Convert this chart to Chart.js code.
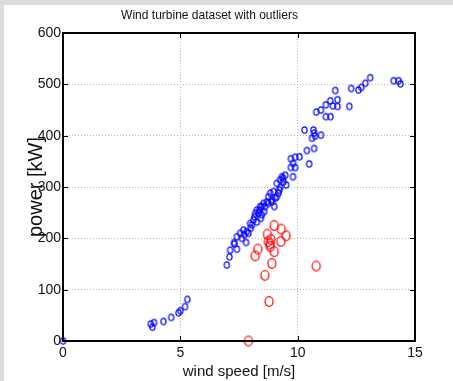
<!DOCTYPE html>
<html><head><meta charset="utf-8">
<script src="https://cdn.jsdelivr.net/npm/chart.js@4"></script>
<style>
html,body{margin:0;padding:0;background:#dcdcdc;width:453px;height:381px;overflow:hidden;}
#wrap{position:absolute;left:4px;top:5px;width:449px;height:376px;background:#fff;}
canvas{display:block;}
</style></head><body>
<div id="wrap"><canvas id="c" width="449" height="376"></canvas></div>
<script>
const titleText = 'Wind turbine dataset with outliers';
const xLabel = 'wind speed [m/s]';
const yLabel = 'power [kW]';
const xTicks = [0, 5, 10, 15];
const yTicks = [0, 100, 200, 300, 400, 500, 600];

const normalSpeed = [0, 3.74, 3.88, 3.81, 4.28, 4.61, 4.92, 5.0, 5.2, 5.30,
  6.98, 7.09, 7.12, 7.30, 7.41, 7.29, 7.41, 7.55, 7.62, 7.69, 7.72, 7.80, 7.83, 7.90, 7.97,
  8.00, 8.05, 8.12, 8.16, 8.19, 8.26, 8.26, 8.33, 8.37, 8.40, 8.43, 8.47, 8.47, 8.54, 8.57,
  8.61, 8.69, 8.75, 8.75, 8.83, 8.90, 8.90, 8.97, 9.00, 9.04, 9.11, 9.11, 9.18, 9.22, 9.25,
  9.25, 9.33, 9.37, 9.39, 9.47, 9.51, 9.71, 9.80, 9.71, 9.80, 9.89, 9.89, 10.08, 10.39, 10.49,
  10.61, 10.70, 10.70, 10.74, 10.67, 10.29, 10.99, 10.79, 10.99, 11.20, 11.40, 11.20, 11.39, 11.50,
  11.70, 11.70, 11.60, 12.20, 12.28, 12.59, 12.71, 12.88, 13.09, 14.09, 14.30, 14.38];
const normalPower = [0, 33, 36, 27, 38, 46, 55, 59, 67, 81,
  148, 164, 177, 189, 179, 192, 203, 210, 200, 216, 207, 192, 213, 210, 229,
  220, 226, 236, 242, 249, 232, 255, 249, 255, 262, 239, 262, 246, 268, 252,
  262, 271, 281, 268, 288, 271, 275, 291, 262, 278, 307, 281, 288, 294, 314,
  299, 320, 317, 310, 323, 304, 338, 346, 355, 320, 338, 358, 359, 371, 345,
  395, 375, 405, 399, 411, 411, 401, 446, 450, 437, 437, 460, 468, 458,
  457, 470, 488, 457, 492, 489, 494, 502, 513, 507, 507, 501];

const outlierSpeed = [7.90, 8.78, 8.60, 10.79, 8.90, 8.19, 8.30, 9.00, 8.83, 8.75, 8.86, 8.71, 8.82, 9.28, 9.51, 9.30, 9.00];
const outlierPower = [0, 77, 128, 146, 151, 166, 179, 174, 184, 194, 198, 208, 189, 194, 205, 218, 225];

function ring(rx, ry, color, lw) {
  const c = document.createElement('canvas');
  const w = Math.ceil(2 * rx + lw + 2), h = Math.ceil(2 * ry + lw + 2);
  c.width = w; c.height = h;
  const g = c.getContext('2d');
  g.strokeStyle = color; g.lineWidth = lw;
  g.beginPath(); g.ellipse(w / 2, h / 2, rx, ry, 0, 0, Math.PI * 2); g.stroke();
  return c;
}

const regular = "'Liberation Sans', Arial, sans-serif";

const framePlugin = {
  id: 'frame',
  afterDatasetsDraw(chart) {
    const {ctx, chartArea: a, scales: {x, y}} = chart;
    ctx.save();
    ctx.strokeStyle = '#000';
    ctx.lineWidth = 1;
    const tl = 5;
    ctx.beginPath();
    xTicks.forEach(v => {
      const px = Math.round(x.getPixelForValue(v)) + 0.5;
      ctx.moveTo(px, a.bottom); ctx.lineTo(px, a.bottom - tl);
      ctx.moveTo(px, a.top); ctx.lineTo(px, a.top + tl);
    });
    yTicks.forEach(v => {
      const py = Math.round(y.getPixelForValue(v)) + 0.5;
      ctx.moveTo(a.left, py); ctx.lineTo(a.left + tl, py);
      ctx.moveTo(a.right, py); ctx.lineTo(a.right - tl, py);
    });
    ctx.stroke();
    ctx.lineWidth = 2;
    ctx.strokeRect(a.left, a.top, a.right - a.left, a.bottom - a.top);
    ctx.restore();
  }
};

new Chart(document.getElementById('c'), {
  type: 'scatter',
  data: {
    datasets: [
      {
        label: 'outliers',
        data: outlierSpeed.map((v, i) => ({x: v, y: outlierPower[i]})),
        pointStyle: ring(4, 4.8, '#ff0000', 1.2),
        clip: false
      },
      {
        label: 'normal',
        data: normalSpeed.map((v, i) => ({x: v, y: normalPower[i]})),
        pointStyle: ring(2.6, 3.2, '#0000ff', 1.2),
        clip: false
      }
    ]
  },
  options: {
    responsive: false,
    animation: false,
    devicePixelRatio: 1,
    layout: {padding: {left: 0, right: 38, top: 0, bottom: 0}},
    plugins: {
      legend: {display: false},
      tooltip: {enabled: false},
      title: {
        display: true, text: titleText, color: '#111',
        font: {family: regular, size: 12, weight: 'normal', lineHeight: 1.2},
        padding: {top: 3.5, bottom: 10.1}
      }
    },
    scales: {
      x: {
        type: 'linear', min: 0, max: 15,
        afterFit(s) { s.height = 40; },
        afterBuildTicks(s) { s.ticks = xTicks.map(v => ({value: v})); },
        ticks: {color: '#111', padding: 4, font: {family: regular, size: 14}},
        grid: {color: '#b4b4b4', lineWidth: 1, drawTicks: false},
        border: {display: false, dash: [1, 2]},
        title: {display: true, text: xLabel, color: '#111', padding: {top: 0, bottom: 0},
          font: {family: regular, size: 15, lineHeight: 1.2}}
      },
      y: {
        type: 'linear', min: 0, max: 600,
        afterFit(s) { s.width = 59; },
        afterBuildTicks(s) { s.ticks = yTicks.map(v => ({value: v})); },
        ticks: {color: '#111', padding: 2, font: {family: regular, size: 14}},
        grid: {color: '#b4b4b4', lineWidth: 1, drawTicks: false},
        border: {display: false, dash: [1, 2]},
        title: {display: true, text: yLabel, color: '#111', padding: {top: 20, bottom: 0},
          font: {family: regular, size: 20, lineHeight: 1.2}}
      }
    }
  },
  plugins: [framePlugin]
});
</script>
</body></html>
